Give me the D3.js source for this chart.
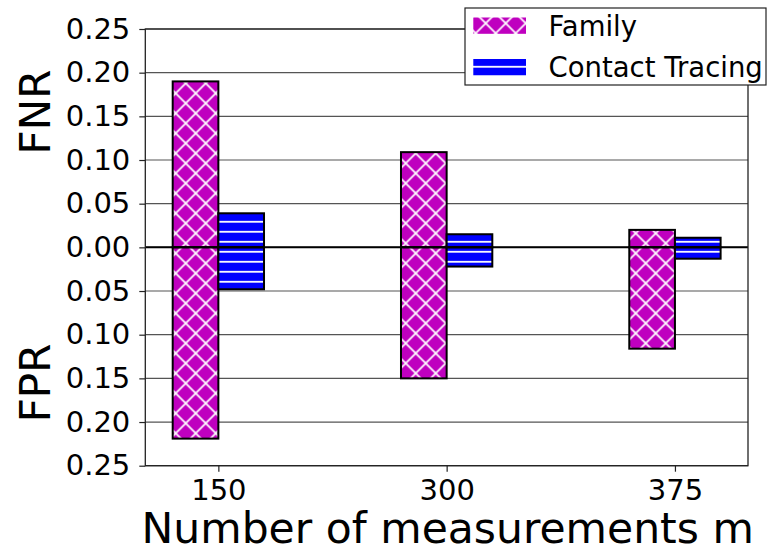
<!DOCTYPE html>
<html>
<head>
<meta charset="utf-8">
<script src="https://cdn.jsdelivr.net/npm/d3@7"></script>
<style>
  html, body { margin: 0; padding: 0; background: #fff; }
  svg { display: block; font-family: "DejaVu Sans", sans-serif; }
</style>
</head>
<body>
<svg id="chart" width="767" height="552"></svg>
<script>
// ---- data ----
const categories = ["150", "300", "375"];
const seriesNames = ["Family", "Contact Tracing"];
const fnrFamily  = [0.190, 0.109, 0.020];
const fprFamily  = [0.219, 0.150, 0.116];
const fnrContact = [0.039, 0.015, 0.011];
const fprContact = [0.048, 0.022, 0.013];
const yTickValues = [-0.25, -0.20, -0.15, -0.10, -0.05, 0, 0.05, 0.10, 0.15, 0.20, 0.25];
const xLabel = "Number of measurements m";
const yLabelTop = "FNR";
const yLabelBottom = "FPR";

// ---- layout ----
const svg = d3.select("#chart");
const L = 145.3, R = 748, T = 29, B = 465.7;
const barW = 0.2;
const x = d3.scaleLinear().domain([-0.32, 2.32]).range([L, R]);
const y = d3.scaleLinear().domain([-0.25, 0.25]).range([B, T]);

const magenta = "#bf00bf", blue = "#0000ff";

// ---- patterns ----
const defs = svg.append("defs");
function xHatch(id, ox, oy) {
  const p = defs.append("pattern").attr("id", id).attr("patternUnits", "userSpaceOnUse")
    .attr("x", ox).attr("y", oy).attr("width", 20).attr("height", 20);
  p.append("rect").attr("width", 20).attr("height", 20).attr("fill", magenta);
  p.append("path")
    .attr("d", "M-5,-5L25,25 M-5,25L25,-5 M-5,15L5,25 M15,-5L25,5 M-5,5L5,-5 M15,25L25,15")
    .attr("stroke", "#fff").attr("stroke-width", 1.7).attr("fill", "none");
}
function hHatch(id, oy) {
  const p = defs.append("pattern").attr("id", id).attr("patternUnits", "userSpaceOnUse")
    .attr("x", 0).attr("y", oy).attr("width", 20).attr("height", 10);
  p.append("rect").attr("width", 20).attr("height", 10).attr("fill", blue);
  p.append("rect").attr("x", 0).attr("y", 0).attr("width", 20).attr("height", 1.8).attr("fill", "#fff");
}
xHatch("hx", 15.7, 13.3);
hHatch("hh", 0.85);
hHatch("hhLeg", 5.85);

// ---- gridlines ----
svg.append("g").selectAll("line").data(yTickValues).join("line")
  .attr("x1", L).attr("x2", R)
  .attr("y1", d => y(d)).attr("y2", d => y(d))
  .attr("stroke", "#555").attr("stroke-width", 1.2);

// ---- bars ----
const idx = d3.range(categories.length);
const barG = svg.append("g");
function drawBars(pos, neg, offset, fill) {
  barG.append("g").selectAll("rect").data(idx).join("rect")
    .attr("x", i => x(i + offset - barW / 2))
    .attr("width", i => x(i + offset + barW / 2) - x(i + offset - barW / 2))
    .attr("y", i => y(pos[i]))
    .attr("height", i => y(0) - y(pos[i]))
    .attr("fill", fill).attr("stroke", "#000").attr("stroke-width", 2);
  barG.append("g").selectAll("rect").data(idx).join("rect")
    .attr("x", i => x(i + offset - barW / 2))
    .attr("width", i => x(i + offset + barW / 2) - x(i + offset - barW / 2))
    .attr("y", i => y(0))
    .attr("height", i => y(-neg[i]) - y(0))
    .attr("fill", fill).attr("stroke", "#000").attr("stroke-width", 2);
}
drawBars(fnrFamily, fprFamily, -barW / 2, "url(#hx)");
drawBars(fnrContact, fprContact, barW / 2, "url(#hh)");

// zero line
svg.append("line").attr("x1", L).attr("x2", R).attr("y1", y(0)).attr("y2", y(0))
  .attr("stroke", "#000").attr("stroke-width", 2);

// ---- axes ----
const yAxis = d3.axisLeft(y).tickValues(yTickValues)
  .tickFormat(d => Math.abs(d).toFixed(2)).tickSize(6).tickPadding(9);
const gy = svg.append("g").attr("transform", `translate(${L},0)`).call(yAxis);
gy.select(".domain").remove();
gy.selectAll(".tick line").attr("stroke", "#222").attr("stroke-width", 1.2);
gy.selectAll(".tick text").attr("font-size", 29).attr("fill", "#000")
  .attr("font-family", "DejaVu Sans");

const xAxis = d3.axisBottom(x).tickValues(idx).tickFormat(i => categories[i])
  .tickSize(6).tickPadding(8);
const gx = svg.append("g").attr("transform", `translate(0,${B})`).call(xAxis);
gx.select(".domain").remove();
gx.selectAll(".tick line").attr("stroke", "#222").attr("stroke-width", 1.2);
gx.selectAll(".tick text").attr("font-size", 29).attr("fill", "#000")
  .attr("font-family", "DejaVu Sans");

// spines
svg.append("rect").attr("x", L).attr("y", T).attr("width", R - L).attr("height", B - T)
  .attr("fill", "none").attr("stroke", "#222").attr("stroke-width", 1.3);

// axis labels
svg.append("text").attr("x", (L + R) / 2 + 1).attr("y", 543).attr("text-anchor", "middle")
  .attr("font-size", 42.5).text(xLabel);
svg.append("text").attr("transform", `translate(50,112) rotate(-90)`)
  .attr("text-anchor", "middle").attr("font-size", 42).text(yLabelTop);
svg.append("text").attr("transform", `translate(50,383) rotate(-90)`)
  .attr("text-anchor", "middle").attr("font-size", 42).text(yLabelBottom);

// ---- legend ----
const leg = svg.append("g");
leg.append("rect").attr("x", 465).attr("y", 8).attr("width", 301).attr("height", 77)
  .attr("fill", "#fff").attr("stroke", "#222").attr("stroke-width", 1.2);
const legFills = ["url(#hx)", "url(#hhLeg)"];
const legY = [17.5, 59];
seriesNames.forEach((name, i) => {
  leg.append("rect").attr("x", 473.3).attr("y", legY[i]).attr("width", 52.7).attr("height", 16.3)
    .attr("fill", legFills[i]);
  leg.append("text").attr("x", 548.5).attr("y", legY[i] + 8.5).attr("dy", "0.35em")
    .attr("font-size", 27.5).text(name);
});
</script>
</body>
</html>
